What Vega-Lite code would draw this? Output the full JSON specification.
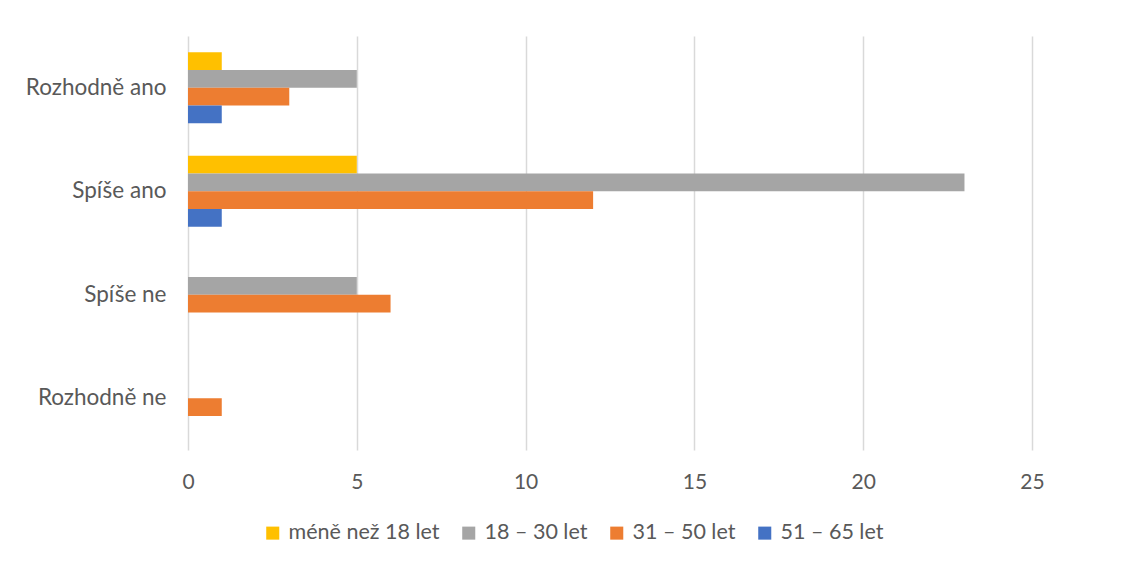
{
  "$schema": "https://vega.github.io/schema/vega-lite/v6.json",
  "autosize": {"type": "none"},
  "padding": {"left": 188, "top": 36, "right": 107, "bottom": 119},
  "width": 844,
  "height": 414,
  "background": "white",
  "config": {
    "font": "Lato",
    "view": {"stroke": null}
  },
  "data": {
    "values": [
      {"odpoved": "Rozhodně ano", "vek": "méně než 18 let", "pocet": 1},
      {"odpoved": "Rozhodně ano", "vek": "18 – 30 let", "pocet": 5},
      {"odpoved": "Rozhodně ano", "vek": "31 – 50 let", "pocet": 3},
      {"odpoved": "Rozhodně ano", "vek": "51 – 65 let", "pocet": 1},
      {"odpoved": "Spíše ano", "vek": "méně než 18 let", "pocet": 5},
      {"odpoved": "Spíše ano", "vek": "18 – 30 let", "pocet": 23},
      {"odpoved": "Spíše ano", "vek": "31 – 50 let", "pocet": 12},
      {"odpoved": "Spíše ano", "vek": "51 – 65 let", "pocet": 1},
      {"odpoved": "Spíše ne", "vek": "méně než 18 let", "pocet": 0},
      {"odpoved": "Spíše ne", "vek": "18 – 30 let", "pocet": 5},
      {"odpoved": "Spíše ne", "vek": "31 – 50 let", "pocet": 6},
      {"odpoved": "Spíše ne", "vek": "51 – 65 let", "pocet": 0},
      {"odpoved": "Rozhodně ne", "vek": "méně než 18 let", "pocet": 0},
      {"odpoved": "Rozhodně ne", "vek": "18 – 30 let", "pocet": 0},
      {"odpoved": "Rozhodně ne", "vek": "31 – 50 let", "pocet": 1},
      {"odpoved": "Rozhodně ne", "vek": "51 – 65 let", "pocet": 0}
    ]
  },
  "mark": {"type": "bar", "cornerRadius": 0},
  "encoding": {
    "y": {
      "field": "odpoved",
      "type": "nominal",
      "sort": ["Rozhodně ano", "Spíše ano", "Spíše ne", "Rozhodně ne"],
      "scale": {"paddingInner": 0.314, "paddingOuter": 0.157},
      "axis": {
        "title": null,
        "domain": false,
        "ticks": false,
        "labelFontSize": 22.5,
        "labelColor": "#595959",
        "labelPadding": 22,
        "labelFont": "Lato",
        "labelLimit": 300
      }
    },
    "yOffset": {
      "field": "vek",
      "type": "nominal",
      "sort": ["méně než 18 let", "18 – 30 let", "31 – 50 let", "51 – 65 let"],
      "scale": {"paddingInner": 0, "paddingOuter": 0}
    },
    "x": {
      "field": "pocet",
      "type": "quantitative",
      "scale": {"domain": [0, 25], "nice": false},
      "axis": {
        "title": null,
        "values": [0, 5, 10, 15, 20, 25],
        "domain": false,
        "ticks": false,
        "grid": true,
        "gridColor": "#D9D9D9",
        "gridWidth": 1.5,
        "labelFlush": false,
        "labelFontSize": 21,
        "labelColor": "#595959",
        "labelPadding": 21,
        "labelFont": "Lato"
      }
    },
    "color": {
      "field": "vek",
      "type": "nominal",
      "scale": {
        "domain": ["méně než 18 let", "18 – 30 let", "31 – 50 let", "51 – 65 let"],
        "range": ["#FFC000", "#A5A5A5", "#ED7D31", "#4472C4"]
      },
      "legend": {
        "title": null,
        "orient": "none",
        "direction": "horizontal",
        "legendX": 74,
        "legendY": 486,
        "symbolType": "square",
        "symbolSize": 170,
        "symbolStrokeWidth": 0,
        "labelFontSize": 21.5,
        "labelColor": "#595959",
        "labelFont": "Lato",
        "labelOffset": 5,
        "columnPadding": 18,
        "labelLimit": 300
      }
    }
  }
}
